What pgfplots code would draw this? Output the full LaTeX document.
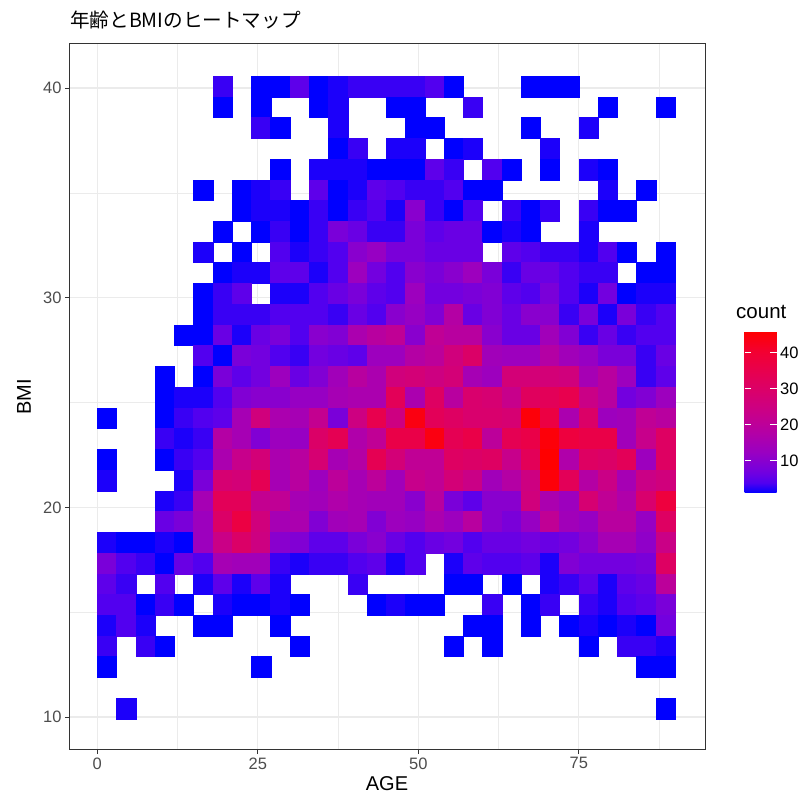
\documentclass[border=0pt]{standalone}
\usepackage{fontspec}
\setmainfont{Liberation Sans}
\newfontfamily\cjk{Noto Sans CJK JP}
\usepackage{pgfplots}
\pgfplotsset{compat=1.18}
\definecolor{gridc}{HTML}{EBEBEB}
\definecolor{tickc}{HTML}{4D4D4D}
\definecolor{framec}{HTML}{333333}
\pgfdeclareplotmark{cell}{%
  \pgfpathrectangle{\pgfpoint{-9.635pt}{-10.365pt}}{\pgfpoint{19.27pt}{20.73pt}}%
  \pgfusepathqfillstroke}
\begin{document}
\begin{tikzpicture}[x=1pt,y=1pt]
\path[use as bounding box] (0,0) rectangle (797,802);
\node[anchor=base west,font=\fontsize{19.6}{19.6}\selectfont\cjk,inner sep=0pt] at (70,802-28) {年齢とBMIのヒートマップ};
\node[anchor=base west,font=\fontsize{20.5}{20.5}\selectfont,inner sep=0pt] at (736,802-319) {count};
\begin{axis}[
  at={(69pt,52pt)}, anchor=south west,
  width=636pt, height=706pt, scale only axis,
  xmin=-4.41, xmax=94.66, ymin=8.43, ymax=42.1,
  xtick={0,25,50,75}, ytick={10,20,30,40},
  minor xtick={12.5,37.5,62.5,87.5}, minor ytick={15,25,35},
  grid=both,
  major grid style={gridc,line width=1.3pt},
  minor grid style={gridc,line width=0.7pt},
  axis line style={framec,line width=1pt},
  tick align=outside, tick pos=left,
  major tick length=4pt, minor tick length=0pt,
  major tick style={framec,line width=1pt},
  /pgf/number format/assume math mode=true,
  ticklabel style={font=\fontsize{16.5}{16.5}\selectfont,text=tickc},
  xlabel={AGE}, ylabel={BMI},
  label style={font=\fontsize{20}{20}\selectfont},
  xlabel style={at={(axis description cs:0.5,0)},anchor=base,yshift=-40pt},
  ylabel style={at={(axis description cs:0,0.5)},anchor=base,yshift=38pt},
  colormap={lab}{rgb255(0pt)=(0,0,255); rgb255(1pt)=(80,0,240); rgb255(2pt)=(112,0,225); rgb255(4pt)=(153,0,194); rgb255(6pt)=(180,0,165); rgb255(8pt)=(201,0,136); rgb255(10pt)=(217,0,108); rgb255(12pt)=(231,0,79); rgb255(14pt)=(243,0,49); rgb255(16pt)=(255,0,0)},
  point meta min=1, point meta max=46,
  colorbar,
  colorbar/width=32pt,
  colorbar style={
    at={(736pt,309pt)}, anchor=south west, xshift=0pt,
    height=162pt,
    ytick={10,20,30,40}, yticklabel pos=right,
    axis line style={draw=none},
    tick align=inside, ytick pos=both,
    major tick length=6.4pt,
    major tick style={white,line width=0.6pt},
    ticklabel style={font=\fontsize{16.5}{16.5}\selectfont,text=black},
    /pgf/number format/assume math mode=true,
    scale only axis,
    grid=none,
  },
]
\addplot[scatter, only marks, mark=cell, point meta=explicit,
  scatter/use mapped color={draw=mapped color,fill=mapped color},
  mark options={line width=0.3pt}]
table[x expr=3*\thisrowno{0}+1.5, y expr=10.41+0.989*\thisrowno{1}, meta index=2, row sep=\\, header=false] {
6 30 3\\8 30 1\\9 30 1\\10 30 5\\11 30 1\\12 30 2\\13 30 3\\14 30 3\\15 30 3\\16 30 3\\17 30 4\\18 30 1\\22 30 1\\23 30 1\\24 30 1\\
6 29 1\\8 29 1\\11 29 1\\12 29 2\\15 29 1\\16 29 1\\19 29 3\\26 29 1\\29 29 1\\
8 28 3\\9 28 1\\12 28 2\\16 28 1\\17 28 1\\22 28 1\\25 28 2\\
12 27 1\\13 27 3\\15 27 2\\16 27 2\\18 27 1\\19 27 2\\23 27 2\\
9 26 1\\11 26 2\\12 26 2\\13 26 2\\14 26 1\\15 26 1\\16 26 1\\17 26 5\\18 26 3\\20 26 4\\21 26 1\\23 26 1\\25 26 2\\26 26 1\\
5 25 1\\7 25 1\\8 25 2\\9 25 3\\11 25 5\\12 25 1\\13 25 2\\14 25 5\\15 25 4\\16 25 3\\17 25 3\\18 25 4\\19 25 1\\20 25 1\\26 25 2\\28 25 1\\
7 24 1\\8 24 2\\9 24 2\\10 24 1\\11 24 3\\12 24 1\\13 24 3\\14 24 4\\15 24 2\\16 24 10\\17 24 3\\18 24 1\\19 24 4\\21 24 3\\22 24 1\\23 24 3\\25 24 3\\26 24 1\\27 24 1\\
6 23 1\\8 23 1\\9 23 3\\10 23 1\\11 23 3\\12 23 8\\13 23 6\\14 23 3\\15 23 3\\16 23 8\\17 23 5\\18 23 6\\19 23 6\\20 23 1\\21 23 2\\22 23 1\\25 23 2\\
5 22 2\\7 22 1\\9 22 4\\10 22 2\\11 22 3\\12 22 4\\13 22 10\\14 22 12\\15 22 8\\16 22 8\\17 22 6\\18 22 6\\19 22 6\\21 22 5\\22 22 4\\23 22 3\\24 22 3\\25 22 2\\26 22 4\\27 22 1\\29 22 1\\
6 21 1\\7 21 2\\8 21 2\\9 21 5\\10 21 5\\11 21 2\\12 21 4\\13 21 13\\14 21 7\\15 21 4\\16 21 10\\17 21 8\\18 21 10\\19 21 13\\20 21 8\\21 21 3\\22 21 6\\23 21 6\\24 21 4\\25 21 3\\26 21 3\\28 21 1\\29 21 1\\
5 20 1\\6 20 3\\7 20 5\\9 20 2\\10 20 2\\11 20 4\\12 20 6\\13 20 8\\14 20 5\\15 20 4\\16 20 13\\17 20 7\\18 20 7\\19 20 8\\20 20 9\\21 20 5\\22 20 4\\23 20 8\\24 20 4\\25 20 2\\26 20 7\\27 20 1\\28 20 2\\29 20 2\\
5 19 1\\6 19 3\\7 19 3\\8 19 3\\9 19 4\\10 19 4\\11 19 4\\12 19 3\\13 19 6\\14 19 4\\15 19 10\\16 19 12\\17 19 9\\18 19 18\\19 19 6\\20 19 9\\21 19 6\\22 19 10\\23 19 10\\24 19 3\\25 19 8\\26 19 2\\27 19 8\\28 19 3\\29 19 4\\
4 18 1\\5 18 1\\6 18 6\\7 18 2\\8 18 6\\9 18 8\\10 18 4\\11 18 10\\12 18 9\\13 18 16\\14 18 19\\15 18 21\\16 18 10\\17 18 21\\18 18 19\\19 18 19\\20 18 10\\21 18 6\\22 18 6\\23 18 14\\24 18 9\\25 18 3\\26 18 6\\27 18 3\\28 18 4\\29 18 4\\
5 17 4\\6 17 1\\7 17 8\\8 17 7\\9 17 4\\10 17 3\\11 17 7\\12 17 6\\13 17 5\\14 17 13\\15 17 13\\16 17 18\\17 17 20\\18 17 26\\19 17 30\\20 17 14\\21 17 13\\22 17 13\\23 17 18\\24 17 14\\25 17 12\\26 17 8\\27 17 8\\28 17 3\\29 17 6\\
3 16 1\\5 16 1\\6 16 8\\7 16 5\\8 16 7\\9 16 13\\10 16 6\\11 16 9\\12 16 14\\13 16 19\\14 16 16\\15 16 26\\16 16 27\\17 16 25\\18 16 27\\19 16 15\\20 16 13\\21 16 27\\22 16 27\\23 16 27\\24 16 26\\25 16 15\\26 16 19\\27 16 13\\28 16 3\\29 16 5\\
3 15 1\\4 15 2\\5 15 2\\6 15 4\\7 15 9\\8 15 10\\9 15 10\\10 15 12\\11 15 12\\12 15 15\\13 15 16\\14 15 16\\15 15 33\\16 15 16\\17 15 31\\18 15 19\\19 15 29\\20 15 28\\21 15 23\\22 15 32\\23 15 33\\24 15 35\\25 15 24\\26 15 19\\27 15 7\\28 15 9\\29 15 13\\
0 14 1\\3 14 1\\4 14 3\\5 14 4\\6 14 5\\7 14 15\\8 14 26\\9 14 16\\10 14 15\\11 14 22\\12 14 8\\13 14 25\\14 14 35\\15 14 25\\16 14 44\\17 14 33\\18 14 31\\19 14 29\\20 14 29\\21 14 28\\22 14 45\\23 14 37\\24 14 16\\25 14 30\\26 14 13\\27 14 14\\28 14 21\\29 14 19\\
3 13 3\\4 13 2\\5 13 3\\6 13 18\\7 13 15\\8 13 9\\9 13 13\\10 13 12\\11 13 30\\12 13 34\\13 13 17\\14 13 21\\15 13 36\\16 13 36\\17 13 44\\18 13 34\\19 13 36\\20 13 20\\21 13 34\\22 13 36\\23 13 45\\24 13 38\\25 13 36\\26 13 36\\27 13 14\\28 13 23\\29 13 31\\
0 12 1\\3 12 1\\4 12 3\\5 12 4\\6 12 16\\7 12 23\\8 12 27\\9 12 16\\10 12 19\\11 12 28\\12 12 15\\13 12 18\\14 12 34\\15 12 27\\16 12 21\\17 12 21\\18 12 31\\19 12 30\\20 12 31\\21 12 23\\22 12 33\\23 12 46\\24 12 17\\25 12 31\\26 12 30\\27 12 33\\28 12 13\\29 12 31\\
0 11 2\\4 11 2\\5 11 8\\6 11 28\\7 11 27\\8 11 34\\9 11 15\\10 11 19\\11 11 13\\12 11 20\\13 11 15\\14 11 20\\15 11 14\\16 11 23\\17 11 21\\18 11 27\\19 11 24\\20 11 14\\21 11 18\\22 11 25\\23 11 45\\24 11 33\\25 11 18\\26 11 24\\27 11 15\\28 11 24\\29 11 26\\
3 10 2\\4 10 3\\5 10 15\\6 10 33\\7 10 33\\8 10 22\\9 10 21\\10 10 15\\11 10 14\\12 10 17\\13 10 15\\14 10 14\\15 10 14\\16 10 10\\17 10 19\\18 10 8\\19 10 5\\20 10 10\\21 10 10\\22 10 26\\23 10 16\\24 10 13\\25 10 28\\26 10 21\\27 10 17\\28 10 29\\29 10 38\\
3 9 6\\4 9 8\\5 9 13\\6 9 30\\7 9 37\\8 9 26\\9 9 15\\10 9 16\\11 9 9\\12 9 14\\13 9 15\\14 9 9\\15 9 13\\16 9 12\\17 9 16\\18 9 13\\19 9 19\\20 9 10\\21 9 8\\22 9 12\\23 9 21\\24 9 14\\25 9 12\\26 9 19\\27 9 19\\28 9 12\\29 9 31\\
0 8 2\\1 8 1\\2 8 1\\3 8 2\\4 8 1\\5 8 13\\6 8 24\\7 8 30\\8 8 25\\9 8 10\\10 8 9\\11 8 5\\12 8 5\\13 8 8\\14 8 10\\15 8 6\\16 8 4\\17 8 6\\18 8 7\\19 8 4\\20 8 6\\21 8 6\\22 8 7\\23 8 6\\24 8 7\\25 8 10\\26 8 15\\27 8 15\\28 8 11\\29 8 24\\
0 7 8\\1 7 4\\2 7 3\\3 7 1\\4 7 6\\5 7 4\\6 7 15\\7 7 14\\8 7 14\\9 7 3\\10 7 2\\11 7 3\\12 7 3\\13 7 4\\14 7 5\\15 7 2\\16 7 4\\18 7 2\\19 7 5\\20 7 4\\21 7 4\\22 7 5\\23 7 2\\24 7 9\\25 7 7\\26 7 7\\27 7 7\\28 7 8\\29 7 31\\
0 6 5\\1 6 3\\3 6 4\\5 6 2\\6 6 5\\7 6 2\\8 6 5\\9 6 2\\13 6 3\\18 6 1\\19 6 1\\21 6 1\\23 6 2\\24 6 3\\25 6 5\\26 6 2\\27 6 5\\28 6 6\\29 6 20\\
0 5 4\\1 5 4\\2 5 1\\3 5 3\\4 5 1\\6 5 2\\7 5 1\\8 5 1\\9 5 2\\10 5 1\\14 5 1\\15 5 2\\16 5 1\\17 5 1\\20 5 3\\22 5 1\\23 5 3\\25 5 3\\26 5 2\\27 5 4\\28 5 5\\29 5 8\\
0 4 2\\1 4 4\\2 4 2\\5 4 1\\6 4 1\\9 4 1\\19 4 1\\20 4 1\\22 4 1\\24 4 1\\25 4 2\\26 4 1\\27 4 2\\28 4 1\\29 4 7\\
0 3 3\\2 3 3\\3 3 1\\10 3 1\\18 3 1\\20 3 1\\25 3 1\\27 3 3\\28 3 3\\29 3 2\\
0 2 1\\8 2 1\\28 2 1\\29 2 1\\
1 0 2\\29 0 1\\
};
\end{axis}
\end{tikzpicture}
\end{document}
